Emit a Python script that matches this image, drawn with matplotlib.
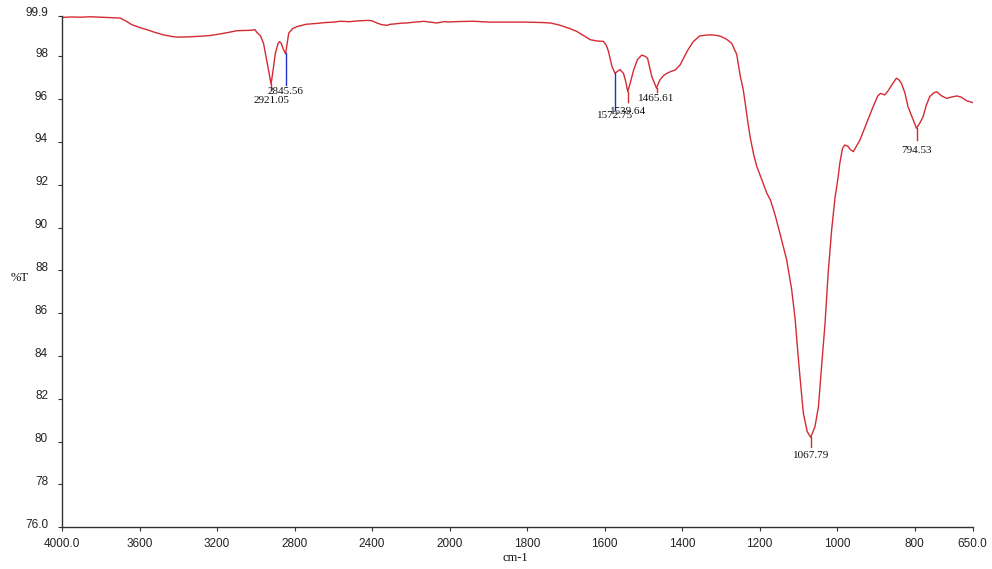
import numpy as np
import matplotlib
matplotlib.use("Agg")
import matplotlib.pyplot as plt
import matplotlib.transforms as mtransforms

# ---- data ----
wavenumber = [4000, 3950, 3906, 3850, 3803, 3750, 3700, 3670, 3640, 3600, 3563, 3520, 3479, 3440,
              3407, 3350, 3286, 3230, 3183, 3140, 3097, 3060, 3020, 3005, 2994, 2975, 2960, 2945,
              2935, 2921, 2910, 2899, 2885, 2877, 2868, 2860, 2846, 2838, 2830, 2810, 2787, 2740,
              2684, 2640, 2600, 2564, 2516, 2470, 2420, 2400, 2375, 2350, 2323, 2305, 2289, 2250,
              2220, 2180, 2150, 2134, 2100, 2065, 2030, 2000, 1970, 1938, 1895, 1850, 1800, 1760,
              1740, 1720, 1706, 1690, 1672, 1655, 1637, 1620, 1603, 1595, 1590, 1581, 1573, 1565,
              1560, 1551, 1545, 1540, 1533, 1525, 1515, 1504, 1495, 1489, 1478, 1470, 1466, 1461,
              1457, 1448, 1439, 1428, 1418, 1405, 1396, 1385, 1371, 1355, 1336, 1320, 1302, 1285,
              1272, 1259, 1250, 1242, 1237, 1230, 1224, 1215, 1207, 1194, 1181, 1172, 1160, 1147,
              1130, 1117, 1108, 1101, 1095, 1087, 1077, 1068, 1057, 1048, 1040, 1031, 1023, 1014,
              1005, 1001, 997, 993, 986, 980, 972, 966, 958, 950, 941, 924, 907, 895, 888, 877,
              868, 859, 847, 840, 834, 825, 817, 805, 795, 786, 778, 770, 761, 750, 743, 730,
              717, 705, 691, 680, 666, 650]
transmittance = [99.82, 99.84, 99.83, 99.85, 99.83, 99.81, 99.79, 99.65, 99.48, 99.35, 99.25, 99.12,
                 99.01, 98.94, 98.90, 98.91, 98.94, 98.98, 99.05, 99.12, 99.20, 99.21, 99.22, 99.25,
                 99.12, 98.95, 98.61, 97.90, 97.40, 96.70, 97.40, 98.14, 98.60, 98.69, 98.60, 98.38,
                 98.12, 98.60, 99.08, 99.30, 99.39, 99.50, 99.54, 99.58, 99.60, 99.64, 99.62, 99.66,
                 99.68, 99.66, 99.56, 99.48, 99.45, 99.50, 99.51, 99.55, 99.56, 99.60, 99.62, 99.64,
                 99.60, 99.56, 99.62, 99.61, 99.63, 99.64, 99.60, 99.60, 99.60, 99.58, 99.56, 99.48,
                 99.40, 99.30, 99.17, 98.98, 98.78, 98.72, 98.70, 98.50, 98.24, 97.54, 97.21, 97.32,
                 97.38, 97.20, 96.80, 96.35, 96.80, 97.36, 97.85, 98.06, 98.00, 97.91, 97.05, 96.70,
                 96.51, 96.75, 96.90, 97.10, 97.21, 97.30, 97.36, 97.60, 97.91, 98.30, 98.69, 98.95,
                 99.00, 99.00, 98.95, 98.80, 98.61, 98.10, 97.10, 96.43, 95.81, 94.90, 94.20, 93.40,
                 92.85, 92.22, 91.60, 91.29, 90.60, 89.70, 88.49, 87.09, 85.69, 84.13, 82.88, 81.33,
                 80.47, 80.20, 80.70, 81.64, 83.51, 85.53, 87.87, 89.89, 91.45, 91.90, 92.40, 93.00,
                 93.70, 93.86, 93.80, 93.65, 93.55, 93.80, 94.09, 94.87, 95.65, 96.15, 96.27, 96.20,
                 96.40, 96.66, 96.98, 96.90, 96.74, 96.30, 95.65, 95.10, 94.64, 94.90, 95.18, 95.70,
                 96.12, 96.30, 96.35, 96.15, 96.04, 96.10, 96.15, 96.10, 95.93, 95.84]

peak_wn = [2921.05, 2845.56, 1572.75, 1539.64, 1465.61, 1067.79, 794.53]
peak_labels = ["2921.05", "2845.56", "1572.75", "1539.64", "1465.61", "1067.79", "794.53"]
peak_top = [96.70, 98.14, 97.21, 96.35, 96.51, 80.20, 94.64]
peak_bottom = [96.45, 96.66, 95.50, 95.85, 96.35, 79.75, 94.10]
peak_text_y = [95.93, 96.35, 95.26, 95.42, 96.01, 79.34, 93.58]
peak_colors = ["#d42a34", "#2233cc", "#2233cc", "#d42a34", "#d42a34", "#d42a34", "#d42a34"]

x_ticks = [4000, 3600, 3200, 2800, 2400, 2000, 1800, 1600, 1400, 1200, 1000, 800, 650]
x_ticklabels = ["4000.0", "3600", "3200", "2800", "2400", "2000", "1800", "1600", "1400",
                "1200", "1000", "800", "650.0"]
y_ticks = [76.0, 78, 80, 82, 84, 86, 88, 90, 92, 94, 96, 98, 99.9]
y_ticklabels = ["76.0", "78", "80", "82", "84", "86", "88", "90", "92", "94", "96", "98", "99.9"]


# x scale: compressed by factor 2 above 2000 cm-1 (standard IR layout)
def fwd(x):
    x = np.asarray(x, dtype=float)
    return np.where(x > 2000, 2000 + (x - 2000) * 0.5, x)


def inv(y):
    y = np.asarray(y, dtype=float)
    return np.where(y > 2000, 2000 + (y - 2000) * 2.0, y)


fig = plt.figure(figsize=(9.92, 5.69), dpi=100)
ax = fig.add_axes([62 / 992, 1 - 527.3 / 569, (972.7 - 62) / 992, (527.3 - 15.7) / 569])
ax.set_xscale("function", functions=(fwd, inv))

line_color = "#d42a34"
ax.plot(wavenumber, transmittance, color=line_color, lw=1.0)

serif = ["Liberation Serif", "DejaVu Serif"]
for wn, lab, top, bot, ty, c in zip(peak_wn, peak_labels, peak_top, peak_bottom, peak_text_y, peak_colors):
    ax.plot([wn, wn], [top, bot], color=c, lw=1.0)
    ax.text(wn, ty, lab, ha="center", va="center", fontsize=8, family=serif, color="#111111")

ax.set_xlim(4000, 650)
ax.set_ylim(76.0, 99.9)
ax.set_xticks(x_ticks)
ax.set_xticklabels(x_ticklabels)
ax.set_yticks(y_ticks)
ax.set_yticklabels(y_ticklabels)
ax.minorticks_off()

for s in ["top", "right"]:
    ax.spines[s].set_visible(False)
for s in ["left", "bottom"]:
    ax.spines[s].set_color("#333333")
    ax.spines[s].set_linewidth(1.0)

ax.tick_params(axis="both", direction="out", length=3, width=0.8, color="#333333",
               labelsize=8.5, labelcolor="#222222")
ax.tick_params(axis="x", pad=5)
ax.tick_params(axis="y", pad=7)
for lab in ax.get_xticklabels() + ax.get_yticklabels():
    lab.set_family(["Liberation Sans", "DejaVu Sans"])

offset = mtransforms.ScaledTranslation(0, 4 / 100, fig.dpi_scale_trans)
for lab in ax.get_yticklabels():
    lab.set_transform(lab.get_transform() + offset)

fig.text(515 / 992, 1 - 558 / 569, "cm-1", ha="center", va="center", fontsize=9, family=serif, color="#111111")
fig.text(20 / 992, 1 - 278 / 569, "%T", ha="center", va="center", fontsize=9, family=serif, color="#111111")

fig.savefig("out.png", dpi=100)
